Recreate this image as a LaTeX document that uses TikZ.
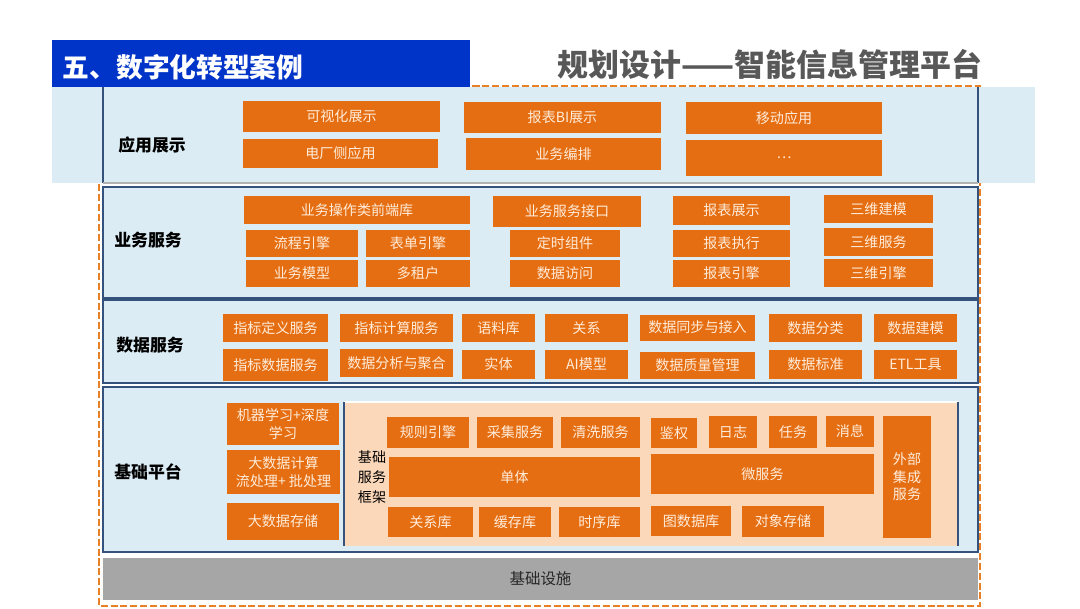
\documentclass[tikz,border=0pt]{standalone}
\usepackage{fontspec}
\setmainfont{Noto Sans CJK SC}
\definecolor{titleblue}{RGB}{0,52,200}
\definecolor{titlegray}{RGB}{88,88,88}
\definecolor{boxorange}{RGB}{229,110,18}
\definecolor{boxtext}{RGB}{255,236,218}
\definecolor{layerfill}{RGB}{219,236,244}
\definecolor{layerblue}{RGB}{52,82,124}
\definecolor{framefill}{RGB}{251,216,186}
\definecolor{infragray}{RGB}{166,166,166}
\definecolor{dashorange}{RGB}{232,128,40}
\usepackage{tikz}
\usetikzlibrary{positioning}

\begin{document}
\begin{tikzpicture}[x=0.025cm,y=-0.025cm,
    obox/.style={fill=boxorange,text=boxtext,inner sep=0pt,align=center,font=\fontsize{10}{12.5}\selectfont},
    layer/.style={draw=layerblue,fill=layerfill,line width=1.2pt},
    layerlabel/.style={font=\fontsize{12}{14}\selectfont\bfseries,text=black}]
      \useasboundingbox (0,0) rectangle (1080,608);
      % outer dashed frame
      \draw[dashorange,line width=1.8pt,dash pattern=on 5pt off 2pt] (99,86) rectangle (980,606);
      % title
      \node[fill=titleblue,minimum width=10.45cm,minimum height=1.18cm,inner sep=0pt] (bar) at (261,63.5) {};
      \node[text=white,font=\fontsize{19}{22}\selectfont\bfseries,anchor=west] (title) at (58,67) {五、数字化转型案例};
      \node[text=titlegray,font=\fontsize{22}{26}\selectfont\bfseries,anchor=east] (subtitle) at (987,64) {规划设计——智能信息管理平台};
      % application layer
      \fill[layerfill] (52,87) rectangle (1035,183);
      \draw[layerblue,line width=1.2pt] (103,87) -- (103,183);
      \draw[layerblue,line width=1.2pt] (978,87) -- (978,183);
      \draw[gray!60,line width=0.8pt] (103,183) -- (978,183);
      \node[layerlabel] (lapp) at (152,145) {应用展示};
      \node[obox,minimum width=4.93cm,minimum height=0.78cm] (vis) at (341.5,116.5) {可视化展示};
      \node[obox,minimum width=4.88cm,minimum height=0.73cm] (plant) at (340.5,153.5) {电厂侧应用};
      \node[obox,minimum width=4.93cm,minimum height=0.78cm] (bi) at (562.5,117.5) {报表BI展示};
      \node[obox,minimum width=4.88cm,minimum height=0.80cm] (orch) at (563.5,154) {业务编排};
      \node[obox,minimum width=4.90cm,minimum height=0.80cm] (mobile) at (784,118) {移动应用};
      \node[obox,minimum width=4.90cm,minimum height=0.90cm] (more) at (784,158) {…};
      % business service layer
      \draw[layer] (103,187) rectangle (978,298);
      \node[layerlabel] (lbiz) at (148,240) {业务服务};
      \node[obox,minimum width=5.65cm,minimum height=0.70cm] (front) at (357,210) {业务操作类前端库};
      \node[obox,minimum width=2.80cm,minimum height=0.68cm] (flow) at (302,243.5) {流程引擎};
      \node[obox,minimum width=2.60cm,minimum height=0.68cm] (form) at (418,243.5) {表单引擎};
      \node[obox,minimum width=2.80cm,minimum height=0.68cm] (bmodel) at (302,273.5) {业务模型};
      \node[obox,minimum width=2.60cm,minimum height=0.68cm] (tenant) at (418,273.5) {多租户};
      \node[obox,minimum width=3.70cm,minimum height=0.78cm] (api) at (567,211.5) {业务服务接口};
      \node[obox,minimum width=2.75cm,minimum height=0.68cm] (timer) at (565,243.5) {定时组件};
      \node[obox,minimum width=2.75cm,minimum height=0.68cm] (access) at (565,273.5) {数据访问};
      \node[obox,minimum width=2.93cm,minimum height=0.73cm] (rshow) at (731.5,210.5) {报表展示};
      \node[obox,minimum width=2.93cm,minimum height=0.68cm] (rexec) at (731.5,243.5) {报表执行};
      \node[obox,minimum width=2.93cm,minimum height=0.68cm] (reng) at (731.5,273.5) {报表引擎};
      \node[obox,minimum width=2.73cm,minimum height=0.70cm] (tmodel) at (878.5,209) {三维建模};
      \node[obox,minimum width=2.73cm,minimum height=0.70cm] (tserv) at (878.5,242) {三维服务};
      \node[obox,minimum width=2.73cm,minimum height=0.70cm] (teng) at (878.5,273) {三维引擎};
      % data service layer
      \draw[layer] (103,300) rectangle (978,383);
      \node[layerlabel] (ldata) at (150,345) {数据服务};
      \node[obox,minimum width=2.63cm,minimum height=0.70cm] (idxdef) at (275.5,328) {指标定义服务};
      \node[obox,minimum width=2.83cm,minimum height=0.70cm] (idxcalc) at (396.5,328) {指标计算服务};
      \node[obox,minimum width=1.83cm,minimum height=0.70cm] (corpus) at (498.5,328) {语料库};
      \node[obox,minimum width=2.08cm,minimum height=0.70cm] (relation) at (586.5,328) {关系};
      \node[obox,minimum width=2.88cm,minimum height=0.65cm] (sync) at (697.5,327.5) {数据同步与接入};
      \node[obox,minimum width=2.33cm,minimum height=0.70cm] (classify) at (815.5,328) {数据分类};
      \node[obox,minimum width=2.08cm,minimum height=0.70cm] (dmodel) at (915.5,328) {数据建模};
      \node[obox,minimum width=2.63cm,minimum height=0.80cm] (idxdata) at (275.5,365) {指标数据服务};
      \node[obox,minimum width=2.83cm,minimum height=0.70cm] (analyse) at (396.5,363) {数据分析与聚合};
      \node[obox,minimum width=1.83cm,minimum height=0.73cm] (entity) at (498.5,364.5) {实体};
      \node[obox,minimum width=2.08cm,minimum height=0.73cm] (aimodel) at (586.5,364.5) {AI模型};
      \node[obox,minimum width=2.88cm,minimum height=0.68cm] (quality) at (697.5,365.5) {数据质量管理};
      \node[obox,minimum width=2.33cm,minimum height=0.73cm] (standard) at (815.5,364.5) {数据标准};
      \node[obox,minimum width=2.08cm,minimum height=0.73cm] (etl) at (915.5,364.5) {ETL工具};
      % base platform layer
      \draw[layer] (103,387) rectangle (978,552);
      \node[layerlabel] (lbase) at (148,472) {基础平台};
      \node[obox,minimum width=2.80cm,minimum height=1.05cm] (ml) at (283,424) {机器学习+深度\\学习};
      \node[obox,minimum width=2.83cm,minimum height=1.10cm] (bigcalc) at (283.5,472) {大数据计算\\流处理+ 批处理};
      \node[obox,minimum width=2.80cm,minimum height=0.93cm] (bigstore) at (283,521.5) {大数据存储};
      \fill[framefill] (344,402) rectangle (958,546);
      \draw[white,line width=0.8pt] (344,402) -- (958,402);
      \draw[layerblue,line width=1.2pt] (344,402) -- (344,546);
      \draw[layerblue,line width=1.2pt] (958,402) -- (958,546);
      \node[align=center,font=\fontsize{10}{14}\selectfont,text=black] (lframe) at (372,477) {基础\\服务\\框架};
      \node[obox,minimum width=2.05cm,minimum height=0.78cm] (rule) at (428,432.5) {规则引擎};
      \node[obox,minimum width=1.90cm,minimum height=0.78cm] (collect) at (515,432.5) {采集服务};
      \node[obox,minimum width=1.98cm,minimum height=0.78cm] (clean) at (600.5,432.5) {清洗服务};
      \node[obox,minimum width=1.15cm,minimum height=0.75cm] (auth) at (674,433) {鉴权};
      \node[obox,minimum width=1.20cm,minimum height=0.80cm] (log) at (733,432) {日志};
      \node[obox,minimum width=1.20cm,minimum height=0.80cm] (task) at (793,432) {任务};
      \node[obox,minimum width=1.20cm,minimum height=0.78cm] (msg) at (850,431.5) {消息};
      \node[obox,minimum width=6.28cm,minimum height=1.00cm] (mono) at (514.5,477) {单体};
      \node[obox,minimum width=5.58cm,minimum height=1.00cm] (micro) at (762.5,474) {微服务};
      \node[obox,minimum width=2.13cm,minimum height=0.75cm] (rdb) at (430.5,522) {关系库};
      \node[obox,minimum width=1.80cm,minimum height=0.75cm] (cache) at (515,522) {缓存库};
      \node[obox,minimum width=2.03cm,minimum height=0.75cm] (tsdb) at (599.5,522) {时序库};
      \node[obox,minimum width=2.00cm,minimum height=0.75cm] (graphdb) at (691,521) {图数据库};
      \node[obox,minimum width=2.05cm,minimum height=0.78cm] (objstore) at (783,521.5) {对象存储};
      \node[obox,minimum width=1.20cm,minimum height=3.05cm] (ext) at (907,477) {外部\\集成\\服务};
      % infrastructure
      \node[fill=infragray,minimum width=21.88cm,minimum height=1.05cm,inner sep=0pt,font=\fontsize{11}{13}\selectfont,text=black!85] (infra) at (540.5,579) {基础设施};
    \end{tikzpicture}
\end{document}
